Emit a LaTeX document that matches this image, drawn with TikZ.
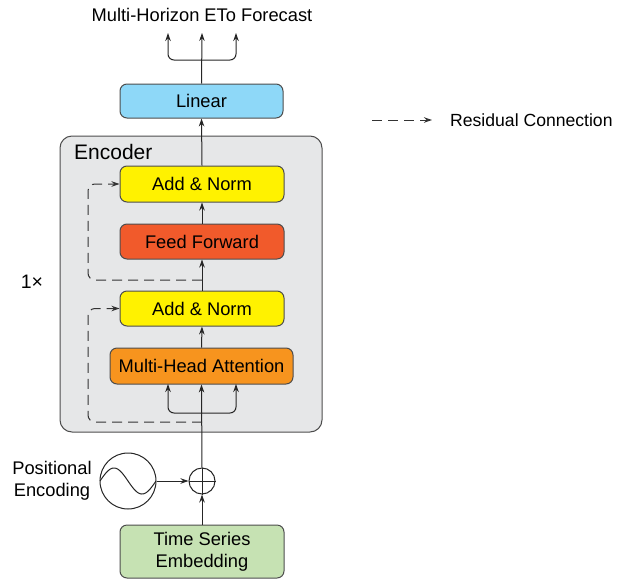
\documentclass[tikz,border=0pt]{standalone}
\usepackage{fontspec}
\setmainfont{Liberation Sans}
\usetikzlibrary{arrows.meta}
\definecolor{linblue}{HTML}{8ED8F8}
\definecolor{anyellow}{HTML}{FFF200}
\definecolor{ffred}{HTML}{F15A2B}
\definecolor{mhaorange}{HTML}{F7941E}
\definecolor{tsegreen}{HTML}{C6E2B3}
\definecolor{encgray}{HTML}{E6E7E8}
\definecolor{edgegray}{HTML}{4D4D4D}
\tikzset{
  blk/.style={draw=edgegray, line width=1pt, rounded corners=7pt, minimum width=164pt, minimum height=35pt, inner sep=0pt, font=\fontsize{18.3}{22}\selectfont, align=center},
  arr/.style={draw=black!85, line width=1pt, -{Stealth[length=8pt,width=5.5pt]}},
  plainln/.style={draw=black!85, line width=1pt},
  res/.style={draw=black!80, line width=1pt, dash pattern=on 10pt off 6pt, rounded corners=7pt, -{Stealth[length=8pt,width=5.5pt]}},
  lbl/.style={font=\fontsize{18.3}{22}\selectfont, inner sep=0pt, align=center}
}
\begin{document}
\begin{tikzpicture}[x=1pt,y=-1pt]
\useasboundingbox (0,0) rectangle (618,581);
% encoder background
\node[draw=edgegray, line width=1pt, fill=encgray, rounded corners=12pt, minimum width=262pt, minimum height=296pt, inner sep=0pt] (enc) at (191,284) {};
\node[lbl, anchor=west, font=\fontsize{21}{24}\selectfont] (enclbl) at (74,152) {Encoder};
% blocks
\node[blk, fill=linblue, minimum width=163pt, minimum height=34pt] (lin) at (201.5,101) {Linear};
\node[blk, fill=anyellow, minimum height=36pt] (an1) at (202,184) {Add \& Norm};
\node[blk, fill=ffred] (ff) at (202,241.5) {Feed Forward};
\node[blk, fill=anyellow] (an2) at (202,308.5) {Add \& Norm};
\node[blk, fill=mhaorange, minimum width=183pt, minimum height=36pt] (mha) at (201.5,366) {Multi-Head Attention};
\node[blk, fill=tsegreen, minimum height=53pt] (tse) at (202,551.5) {Time Series\\Embedding};
% plus and sine
\node[draw=black!85, line width=1pt, circle, minimum size=26pt, inner sep=0pt] (plus) at (202,481) {};
\draw[plainln] (plus.west) -- (plus.east);
\draw[plainln] (plus.north) -- (plus.south);
\node[draw=black!85, line width=1pt, circle, minimum size=56pt, inner sep=0pt] (sine) at (128,481) {};
\draw[plainln, smooth, domain=0:1, samples=60] plot ({100+56*\x},{481-13*sin(360*\x)});
\node[lbl] (pelbl) at (52,481) {Positional\\Encoding};
\node[lbl, font=\fontsize{19.5}{22}\selectfont] (rep) at (32,282) {1×};
% title
\node[lbl] (title) at (202,15) {Multi-Horizon ETo Forecast};
% coordinates
\coordinate (top) at (202,33);
\coordinate (topl) at (168,33);
\coordinate (topr) at (236,33);
\coordinate (fkt) at (202,60);
\coordinate (mhal) at (168,384);
\coordinate (mhar) at (236,384);
\coordinate (fkb) at (202,413);
\coordinate (r1) at (202,280);
\coordinate (r1l) at (88,184);
\coordinate (r2) at (202,422);
\coordinate (r2l) at (88,308.5);
% main flow
\draw[arr] (tse.north) -- (plus.south);
\draw[arr] (sine.east) -- (plus.west);
\draw[arr] (plus.north) -- (mha.south);
\draw[arr, rounded corners=6pt] (fkb) -| (mhal);
\draw[arr, rounded corners=6pt] (fkb) -| (mhar);
\draw[arr] (mha.north) -- (an2.south);
\draw[arr] (an2.north) -- (ff.south);
\draw[arr] (ff.north) -- (an1.south);
\draw[arr] (an1.north) -- (lin.south);
\draw[arr] (lin.north) -- (top);
\draw[arr, rounded corners=6pt] (fkt) -| (topl);
\draw[arr, rounded corners=6pt] (fkt) -| (topr);
% residuals
\draw[res] (r1) -| (r1l) -- (an1.west);
\draw[res] (r2) -| (r2l) -- (an2.west);
% legend
\coordinate (legA) at (372,120);
\coordinate (legB) at (432,120);
\draw[res] (legA) -- (legB);
\node[lbl, anchor=west, font=\fontsize{17.6}{21}\selectfont] (leglbl) at (450,120) {Residual Connection};
\end{tikzpicture}
\end{document}
